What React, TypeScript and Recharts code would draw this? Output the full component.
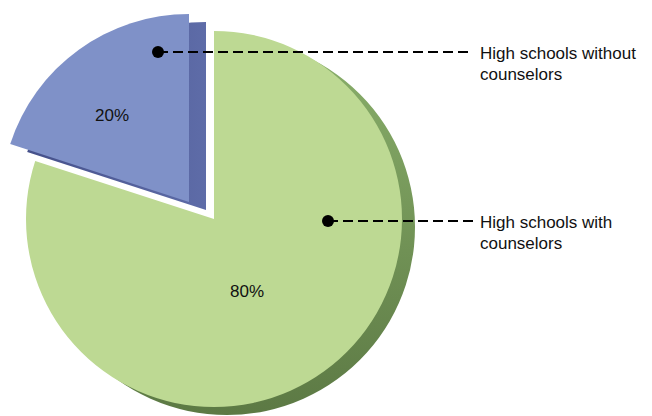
import { Cell, Pie, PieChart } from 'recharts'

// Share of high schools, with and without counselors
const categories = ['High schools without counselors', 'High schools with counselors']
const shares = [20, 80]
const percentLabels = ['20%', '80%']
const calloutLines = [
  ['High schools without', 'counselors'],
  ['High schools with', 'counselors'],
]

const rows = categories.map((name, i) => ({ name, value: shares[i] }))

// index 0 = blue (exploded) slice, index 1 = green slice
const TOP_FILL = ['#7f91c8', '#bdd993']
const SIDE_FILL = ['url(#blueSide)', 'url(#greenSide)']

const GREEN_CENTER = { x: 214, y: 219 }
const BLUE_CENTER = { x: 189, y: 202 }
const RADIUS = 188
// fake 3D depth: slice drawn again underneath, shifted
const DEPTH = [
  { dx: 17, dy: 8 },
  { dx: 13, dy: 8 },
]

// label placement relative to the slice's centre
const LABEL_POS = [
  { pctDx: -77, pctDy: -87, dotDx: -31, dotDy: -150 },
  { pctDx: 33, pctDy: 72, dotDx: 114, dotDy: 2 },
]
const LEADER_END_X = 473
const TEXT_X = 480
const FONT = '"Liberation Sans", Arial, sans-serif'

function makeLabel(only: number) {
  return (props: any) => {
    const { cx, cy, index } = props
    if (index !== only) return null
    const pos = LABEL_POS[index]
    const dotX = cx + pos.dotDx
    const dotY = cy + pos.dotDy
    const lines = calloutLines[index]
    return (
      <g>
        <text
          x={cx + pos.pctDx}
          y={cy + pos.pctDy}
          textAnchor="middle"
          dominantBaseline="central"
          fontFamily={FONT}
          fontSize={17}
          fill="#111"
        >
          {percentLabels[index]}
        </text>
        <line
          x1={dotX}
          y1={dotY}
          x2={LEADER_END_X}
          y2={dotY}
          stroke="#000"
          strokeWidth={2}
          strokeDasharray="10 5"
        />
        <circle cx={dotX} cy={dotY} r={6} fill="#000" />
        {lines.map((t, i) => (
          <text
            key={t}
            x={TEXT_X}
            y={dotY + 6.5 + i * 21}
            fontFamily={FONT}
            fontSize={17}
            fill="#111"
          >
            {t}
          </text>
        ))}
      </g>
    )
  }
}

function layer(
  key: string,
  cx: number,
  cy: number,
  target: number,
  fills: string[],
  label?: (p: any) => any,
) {
  return (
    <Pie
      key={key}
      data={rows}
      dataKey="value"
      nameKey="name"
      cx={cx}
      cy={cy}
      outerRadius={RADIUS}
      startAngle={90}
      endAngle={450}
      stroke="none"
      labelLine={false}
      label={label ?? false}
      isAnimationActive={false}
    >
      {rows.map((r, i) => (
        <Cell key={r.name} fill={i === target ? fills[i] : 'transparent'} />
      ))}
    </Pie>
  )
}

export default function App() {
  return (
    <div style={{ position: 'absolute', left: 0, top: 0, background: '#fff' }}>
      <PieChart width={652} height={416} margin={{ top: 0, right: 0, bottom: 0, left: 0 }}>
        <defs>
          <linearGradient id="greenSide" x1="0" y1="0" x2="0" y2="1">
            <stop offset="0%" stopColor="#8ab06b" />
            <stop offset="100%" stopColor="#5c7944" />
          </linearGradient>
          <linearGradient id="blueSide" x1="0" y1="0" x2="1" y2="0">
            <stop offset="0%" stopColor="#45508a" />
            <stop offset="100%" stopColor="#5e6ca8" />
          </linearGradient>
        </defs>
        {layer('gSide', GREEN_CENTER.x + DEPTH[1].dx, GREEN_CENTER.y + DEPTH[1].dy, 1, SIDE_FILL)}
        {layer('gTop', GREEN_CENTER.x, GREEN_CENTER.y, 1, TOP_FILL, makeLabel(1))}
        {layer('bSide', BLUE_CENTER.x + DEPTH[0].dx, BLUE_CENTER.y + DEPTH[0].dy, 0, SIDE_FILL)}
        {layer('bTop', BLUE_CENTER.x, BLUE_CENTER.y, 0, TOP_FILL, makeLabel(0))}
      </PieChart>
    </div>
  )
}
